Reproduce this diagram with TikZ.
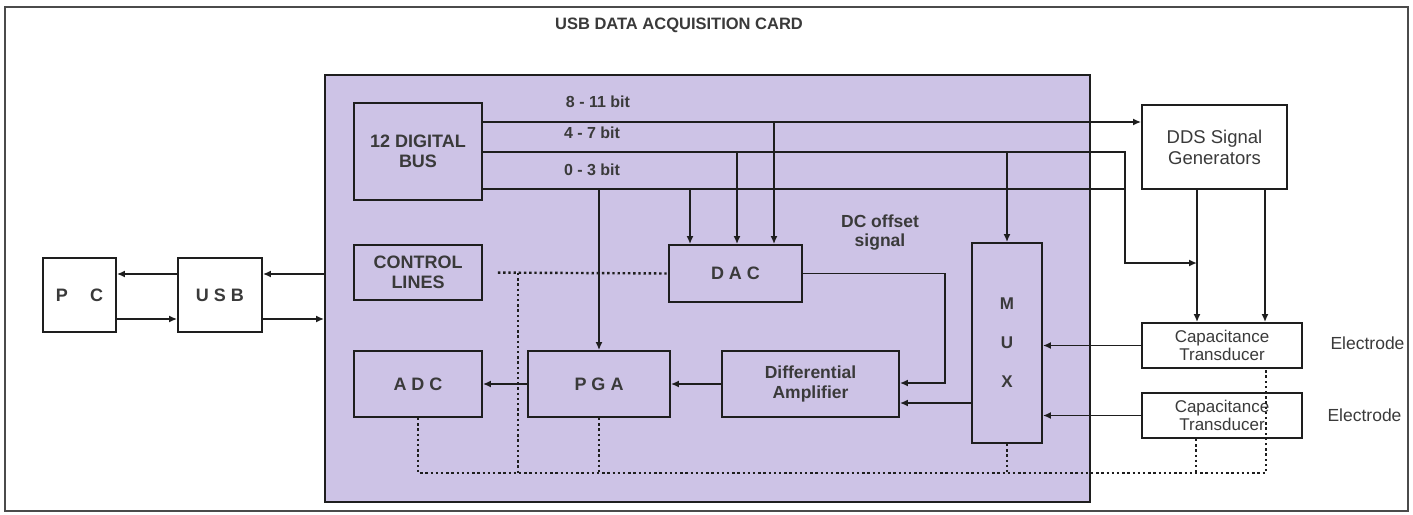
\documentclass[tikz,border=0pt]{standalone}
\usepackage{fontspec}
\setmainfont{Liberation Sans}
\usepackage{xcolor}
\definecolor{CardLilac}{HTML}{CDC3E6}
\definecolor{LineInk}{HTML}{1E1E1E}
\definecolor{TextInk}{HTML}{3A3A3A}
\usepackage{tikz}
\usetikzlibrary{arrows.meta,positioning}
\tikzset{
  blockbox/.style={
    draw=LineInk,
    line width=1.8pt,
    inner sep=0pt,
    align=center,
    text=TextInk,
    font=\fontsize{18}{20}\selectfont\bfseries
  },
  plainbox/.style={
    blockbox,
    fill=white,
    font=\fontsize{17}{18}\selectfont
  },
  buslabel/.style={
    text=TextInk,
    font=\fontsize{16}{18}\selectfont\bfseries
  },
  sigline/.style={
    draw=LineInk,
    line width=1.8pt
  },
  sigarrow/.style={
    sigline,
    -{Latex[length=8pt,width=7pt]}
  },
  ctrlline/.style={
    draw=LineInk,
    line width=2.4pt,
    dash pattern=on 2.4pt off 2.8pt
  }
}

\begin{document}
\begin{tikzpicture}[x=1pt,y=-1pt]
  \useasboundingbox (0,0) rectangle (1413,514);
  \draw[line width=1.4pt,draw=LineInk!80] (5,7) rectangle (1408,511);
  \node[font=\fontsize{16.5}{18}\selectfont\bfseries,text=TextInk] (title) at (679,25) {USB DATA ACQUISITION CARD};

  % the card
  \node[blockbox,fill=CardLilac,minimum width=765pt,minimum height=427pt] (card) at (707.5,288.5) {};
  \node[blockbox,minimum width=128pt,minimum height=97pt] (bus) at (418,151.5) {12 DIGITAL\\BUS};
  \node[blockbox,minimum width=128pt,minimum height=55pt] (ctrl) at (418,272.5) {CONTROL\\LINES};
  \node[blockbox,minimum width=133pt,minimum height=57pt] (dac) at (735.5,273.5) {D A C};
  \node[blockbox,minimum width=128pt,minimum height=66pt] (adc) at (418,384) {A D C};
  \node[blockbox,minimum width=142pt,minimum height=66pt] (pga) at (599,384) {P G A};
  \node[blockbox,minimum width=177pt,minimum height=66pt,font=\fontsize{17.5}{20}\selectfont\bfseries] (diff) at (810.5,384) {Differential\\Amplifier};
  \node[blockbox,minimum width=70pt,minimum height=200pt,font=\fontsize{17}{39}\selectfont\bfseries] (mux) at (1007,343) {M\\U\\X};
  \node[buslabel] (hibits) at (598,102) {8 - 11 bit};
  \node[buslabel] (midbits) at (592,133) {4 - 7 bit};
  \node[buslabel] (lobits) at (592,170) {0 - 3 bit};
  \node[buslabel,align=center,font=\fontsize{17.5}{19}\selectfont\bfseries] (offset) at (880,233) {DC offset\\signal};

  % outside the card
  \node[plainbox,minimum width=73pt,minimum height=74pt,font=\fontsize{18}{20}\selectfont\bfseries] (pc) at (79.5,295) {P\hspace{22pt}C};
  \node[plainbox,minimum width=84pt,minimum height=74pt,font=\fontsize{18}{20}\selectfont\bfseries] (usb) at (220,295) {U S B};
  \node[plainbox,minimum width=145pt,minimum height=84pt,font=\fontsize{18.5}{21}\selectfont] (dds) at (1214.5,147) {DDS Signal\\Generators};
  \node[plainbox,minimum width=160pt,minimum height=45pt] (capA) at (1222,345.5) {Capacitance\\Transducer};
  \node[plainbox,minimum width=160pt,minimum height=45pt] (capB) at (1222,415.5) {Capacitance\\Transducer};
  \node[anchor=west,text=TextInk,font=\fontsize{17.5}{19}\selectfont] (elecA) at (1327,343) {Electrode};
  \node[anchor=west,text=TextInk,font=\fontsize{17.5}{19}\selectfont] (elecB) at (1324,415) {Electrode};

  % digital bus
  \draw[sigarrow] (bus.east |- 0,122) -- (dds.west |- 0,122);
  \draw[sigarrow] (bus.east |- 0,152) -- (1125,152) -- (1125,263) -- (1197,263);
  \draw[sigline] (bus.east |- 0,189) -- (1125,189);
  \foreach \xx/\yy in {690/189,737/152,774/122}{\draw[sigarrow] (\xx,\yy) -- (\xx,0 |- dac.north);}
  \draw[sigarrow] (pga.north |- 0,189) -- (pga.north);
  \draw[sigarrow] (mux.north |- 0,152) -- (mux.north);

  % analog path
  \foreach \xx in {1197,1265}{\draw[sigarrow] (\xx,0 |- dds.south) -- (\xx,0 |- capA.north);}
  \draw[sigarrow] (capA.west) -- (mux.east |- capA.west);
  \draw[sigarrow] (capB.west) -- (mux.east |- capB.west);
  \draw[sigarrow] (dac.east) -- (945,273.5) -- (945,383) -- (diff.east |- 0,383);
  \draw[sigarrow] (mux.west |- 0,403) -- (diff.east |- 0,403);
  \draw[sigarrow] (diff.west) -- (pga.east);
  \draw[sigarrow] (pga.west) -- (adc.east);

  % host link
  \draw[sigarrow] (card.west |- 0,274) -- (usb.east |- 0,274);
  \draw[sigarrow] (usb.east |- 0,319) -- (card.west |- 0,319);
  \draw[sigarrow] (usb.west |- 0,274) -- (pc.east |- 0,274);
  \draw[sigarrow] (pc.east |- 0,319) -- (usb.west |- 0,319);

  % control lines
  \draw[ctrlline,shorten <=15pt] (ctrl.east) -- (dac.west);
  \draw[ctrlline] (518,273) -- (518,473);
  \draw[ctrlline] (adc.south) -- (adc.south |- 0,473) -- (1266,473) -- (1266,0 |- capA.south);
  \draw[ctrlline] (pga.south) -- (pga.south |- 0,473);
  \draw[ctrlline] (mux.south) -- (mux.south |- 0,473);
  \draw[ctrlline] (1196,0 |- capB.south) -- (1196,473);
\end{tikzpicture}
\end{document}
